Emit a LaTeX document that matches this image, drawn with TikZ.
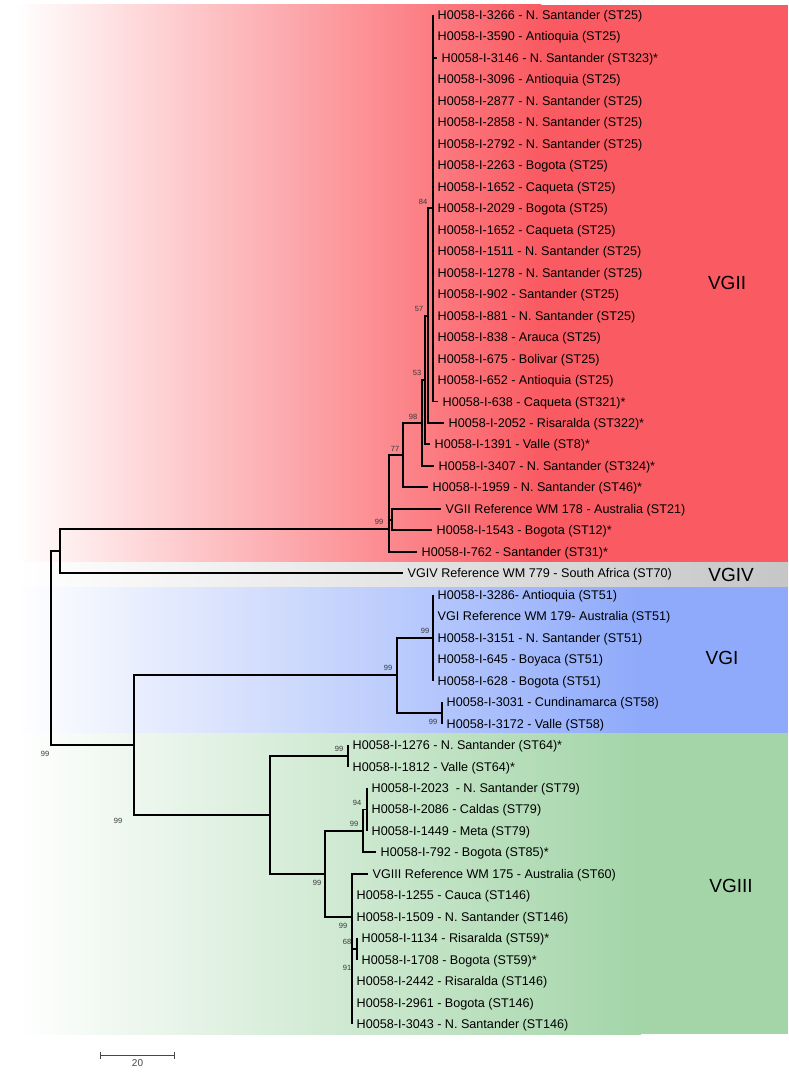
\documentclass[tikz,border=0pt]{standalone}
\usepackage{fontspec}
\setmainfont{Liberation Sans}
\usetikzlibrary{arrows.meta}
\definecolor{vgiiRed}{RGB}{250, 90, 97}
\definecolor{vgivGreyLight}{RGB}{228, 228, 228}
\definecolor{vgivGrey}{RGB}{198, 198, 198}
\definecolor{vgiBlue}{RGB}{143, 170, 250}
\definecolor{vgiiiGreen}{RGB}{163, 213, 168}
\definecolor{bootGrey}{RGB}{55, 55, 55}
\definecolor{scaleGrey}{RGB}{70, 70, 70}

\begin{document}
\begin{tikzpicture}[
  x=1pt, y=-21.47pt,
  branch/.style={line width=1.9pt, black},
  leaf/.style={
    anchor=west,
    inner xsep=4.5pt,
    inner ysep=0pt,
    text height=9pt,
    text depth=0pt,
    font=\fontsize{12.6}{14}\selectfont
  },
  boot/.style={inner sep=0pt, text=bootGrey, font=\fontsize{7.5}{8}\selectfont},
  clade/.style={inner sep=0pt, font=\fontsize{19}{22}\selectfont},
  scalebar/.style={{Bar[width=7pt]}-{Bar[width=7pt]}, line width=1.1pt, scaleGrey}
]
  \useasboundingbox (0,-0.6986) rectangle (788,49.32);

  % clade bands
  \shade[left color=white, right color=vgiiRed] (15,-0.466) rectangle (541,25.48);
  \fill[vgiiRed] (540,-0.466) rectangle (788,25.48);
  \shade[left color=white, right color=vgivGreyLight] (15,25.48) rectangle (401,26.64);
  \shade[left color=vgivGreyLight, right color=vgivGrey] (400,25.48) rectangle (788,26.64);
  \shade[left color=white, right color=vgiBlue] (15,26.64) rectangle (641,33.44);
  \fill[vgiBlue] (640,26.64) rectangle (788,33.44);
  \shade[left color=white, right color=vgiiiGreen] (15,33.44) rectangle (641,47.46);
  \fill[vgiiiGreen] (640,33.44) rectangle (788,47.46);

  % taxa
  \node[leaf] (iso3266) at (433,0) {H0058-I-3266 - N. Santander (ST25)};
  \node[leaf] (iso3590) at (433,1) {H0058-I-3590 - Antioquia (ST25)};
  \node[leaf] (iso3146) at (437,2) {H0058-I-3146 - N. Santander (ST323)*};
  \node[leaf] (iso3096) at (433,3) {H0058-I-3096 - Antioquia (ST25)};
  \node[leaf] (iso2877) at (433,4) {H0058-I-2877 - N. Santander (ST25)};
  \node[leaf] (iso2858) at (433,5) {H0058-I-2858 - N. Santander (ST25)};
  \node[leaf] (iso2792) at (433,6) {H0058-I-2792 - N. Santander (ST25)};
  \node[leaf] (iso2263) at (433,7) {H0058-I-2263 - Bogota (ST25)};
  \node[leaf] (iso1652a) at (433,8) {H0058-I-1652 - Caqueta (ST25)};
  \node[leaf] (iso2029) at (433,9) {H0058-I-2029 - Bogota (ST25)};
  \node[leaf] (iso1652b) at (433,10) {H0058-I-1652 - Caqueta (ST25)};
  \node[leaf] (iso1511) at (433,11) {H0058-I-1511 - N. Santander (ST25)};
  \node[leaf] (iso1278) at (433,12) {H0058-I-1278 - N. Santander (ST25)};
  \node[leaf] (iso902) at (433,13) {H0058-I-902 - Santander (ST25)};
  \node[leaf] (iso881) at (433,14) {H0058-I-881 - N. Santander (ST25)};
  \node[leaf] (iso838) at (433,15) {H0058-I-838 - Arauca (ST25)};
  \node[leaf] (iso675) at (433,16) {H0058-I-675 - Bolivar (ST25)};
  \node[leaf] (iso652) at (433,17) {H0058-I-652 - Antioquia (ST25)};
  \node[leaf] (iso638) at (438,18) {H0058-I-638 - Caqueta (ST321)*};
  \node[leaf] (iso2052) at (444,19) {H0058-I-2052 - Risaralda (ST322)*};
  \node[leaf] (iso1391) at (430,20) {H0058-I-1391 - Valle (ST8)*};
  \node[leaf] (iso3407) at (434,21) {H0058-I-3407 - N. Santander (ST324)*};
  \node[leaf] (iso1959) at (428,22) {H0058-I-1959 - N. Santander (ST46)*};
  \node[leaf] (ref178) at (441,23) {VGII Reference WM 178 - Australia (ST21)};
  \node[leaf] (iso1543) at (432,24) {H0058-I-1543 - Bogota (ST12)*};
  \node[leaf] (iso762) at (417,25) {H0058-I-762 - Santander (ST31)*};
  \node[leaf] (ref779) at (403,26) {VGIV Reference WM 779 - South Africa (ST70)};
  \node[leaf] (iso3286) at (433,27) {H0058-I-3286- Antioquia (ST51)};
  \node[leaf] (ref179) at (433,28) {VGI Reference WM 179- Australia (ST51)};
  \node[leaf] (iso3151) at (433,29) {H0058-I-3151 - N. Santander (ST51)};
  \node[leaf] (iso645) at (433,30) {H0058-I-645 - Boyaca (ST51)};
  \node[leaf] (iso628) at (433,31) {H0058-I-628 - Bogota (ST51)};
  \node[leaf] (iso3031) at (442,32) {H0058-I-3031 - Cundinamarca (ST58)};
  \node[leaf] (iso3172) at (442,33) {H0058-I-3172 - Valle (ST58)};
  \node[leaf] (iso1276) at (348,34) {H0058-I-1276 - N. Santander (ST64)*};
  \node[leaf] (iso1812) at (348,35) {H0058-I-1812 - Valle (ST64)*};
  \node[leaf] (iso2023) at (367,36) {H0058-I-2023~ - N. Santander (ST79)};
  \node[leaf] (iso2086) at (367,37) {H0058-I-2086 - Caldas (ST79)};
  \node[leaf] (iso1449) at (367,38) {H0058-I-1449 - Meta (ST79)};
  \node[leaf] (iso792) at (376,39) {H0058-I-792 - Bogota (ST85)*};
  \node[leaf] (ref175) at (368,40) {VGIII Reference WM 175 - Australia (ST60)};
  \node[leaf] (iso1255) at (352,41) {H0058-I-1255 - Cauca (ST146)};
  \node[leaf] (iso1509) at (352,42) {H0058-I-1509 - N. Santander (ST146)};
  \node[leaf] (iso1134) at (357,43) {H0058-I-1134 - Risaralda (ST59)*};
  \node[leaf] (iso1708) at (357,44) {H0058-I-1708 - Bogota (ST59)*};
  \node[leaf] (iso2442) at (352,45) {H0058-I-2442 - Risaralda (ST146)};
  \node[leaf] (iso2961) at (352,46) {H0058-I-2961 - Bogota (ST146)};
  \node[leaf] (iso3043) at (352,47) {H0058-I-3043 - N. Santander (ST146)};

  % internal nodes
  \coordinate (n84) at (433,9);
  \coordinate (n57) at (428,14);
  \coordinate (n53) at (425,17);
  \coordinate (n98) at (422,19);
  \coordinate (n77) at (403,20.5);
  \coordinate (nref) at (392,23.5);
  \coordinate (nvgii) at (389,23.94);
  \coordinate (ntop) at (60,24.97);
  \coordinate (nvgiA) at (433,29);
  \coordinate (nvgiB) at (442,32.5);
  \coordinate (nvgi) at (397,30.75);
  \coordinate (n64) at (348,34.5);
  \coordinate (n94) at (367,37);
  \coordinate (n85) at (363,38);
  \coordinate (n59) at (357,43.5);
  \coordinate (n146) at (352,42);
  \coordinate (nmid) at (325,40);
  \coordinate (nvgiii) at (270,37.25);
  \coordinate (nbot) at (134,34);
  \coordinate (root) at (51,29.5);

  % branches
  \draw[branch] (root) |- (ntop) (root) |- (nbot);
  \draw[branch] (ntop) |- (nvgii) (ntop) |- (ref779.west);
  \draw[branch] (nvgii) |- (n77) (nvgii) |- (nref) (nvgii) |- (iso762.west);
  \draw[branch] (nref) |- (ref178.west) (nref) |- (iso1543.west);
  \draw[branch] (n77) |- (n98) (n77) |- (iso1959.west);
  \draw[branch] (n98) |- (n53) (n98) |- (iso3407.west);
  \draw[branch] (n53) |- (n57) (n53) |- (iso1391.west);
  \draw[branch] (n57) |- (n84) (n57) |- (iso2052.west);
  \draw[branch] (n84) |- (iso3266.west) (n84) |- (iso3146.west)
    (n84) |- (iso638.west);
  \draw[branch] (nbot) |- (nvgi) (nbot) |- (nvgiii);
  \draw[branch] (nvgi) |- (nvgiA) (nvgi) |- (nvgiB);
  \draw[branch] (nvgiA) |- (iso3286.west) (nvgiA) |- (iso628.west);
  \draw[branch] (nvgiB) |- (iso3031.west) (nvgiB) |- (iso3172.west);
  \draw[branch] (nvgiii) |- (n64) (nvgiii) |- (nmid);
  \draw[branch] (n64) |- (iso1276.west) (n64) |- (iso1812.west);
  \draw[branch] (nmid) |- (n85) (nmid) |- (n146);
  \draw[branch] (n85) |- (n94) (n85) |- (iso792.west);
  \draw[branch] (n94) |- (iso2023.west) (n94) |- (iso1449.west);
  \draw[branch] (n146) |- (ref175.west) (n146) |- (n59) (n146) |- (iso3043.west);
  \draw[branch] (n59) |- (iso1134.west) (n59) |- (iso1708.west);

  % bootstrap values
  \node[boot] (b84) at (423,8.71) {84};
  \node[boot] (b57) at (419,13.69) {57};
  \node[boot] (b53) at (417,16.67) {53};
  \node[boot] (b98) at (413,18.72) {98};
  \node[boot] (b77) at (395,20.21) {77};
  \node[boot] (bvgii) at (379,23.61) {99};
  \node[boot] (bvgiA) at (425,28.69) {99};
  \node[boot] (bvgi) at (388,30.41) {99};
  \node[boot] (bvgiB) at (433,32.93) {99};
  \node[boot] (bbot) at (45,34.42) {99};
  \node[boot] (b64) at (339,34.19) {99};
  \node[boot] (b94) at (357,36.70) {94};
  \node[boot] (b85) at (354,37.68) {99};
  \node[boot] (bvgiii) at (118,37.54) {99};
  \node[boot] (bmid) at (317,40.43) {99};
  \node[boot] (b146) at (343,42.43) {99};
  \node[boot] (b59) at (347,43.18) {68};
  \node[boot] (b91) at (347,44.39) {91};

  % clade names
  \node[clade] (vgii) at (727,12.48) {VGII};
  \node[clade] (vgiv) at (731,26.1) {VGIV};
  \node[clade] (vgi) at (722,29.95) {VGI};
  \node[clade] (vgiii) at (731,40.57) {VGIII};

  % scale
  \coordinate (sbL) at (100,48.44);
  \coordinate (sbR) at (175,48.44);
  \draw[scalebar] (sbL) -- node[below=4pt, inner sep=0pt, text=scaleGrey,
    font=\fontsize{10}{11}\selectfont] (sbText) {20} (sbR);
\end{tikzpicture}
\end{document}
